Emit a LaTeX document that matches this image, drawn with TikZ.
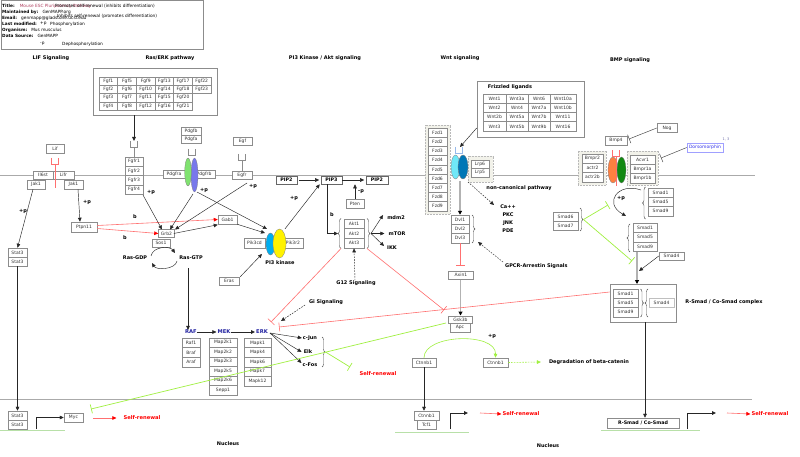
\documentclass[tikz,border=0pt]{standalone}
\usepackage{fontspec}
\setmainfont{DejaVu Sans}
\usetikzlibrary{arrows.meta,decorations.pathreplacing,calc,shapes.geometric}
\definecolor{bord}{HTML}{8C8C8C}
\definecolor{txt}{HTML}{333333}
\definecolor{redl}{HTML}{FF7070}
\definecolor{grnl}{HTML}{A0F040}
\definecolor{navy}{HTML}{2020A0}
\definecolor{memb}{HTML}{AAAAAA}
\definecolor{bgbox}{HTML}{F2F2EA}
\definecolor{dnag}{HTML}{B8E0A8}
\definecolor{cupb}{HTML}{96B9EB}
\definecolor{pblue}{HTML}{7878EB}
\definecolor{pgreen}{HTML}{80E270}
\definecolor{wcyan}{HTML}{70E8F8}
\definecolor{wblue}{HTML}{0077B6}
\definecolor{bor}{HTML}{FF8040}
\definecolor{bgr}{HTML}{118811}
\definecolor{dmb}{HTML}{A0A0FF}
\definecolor{dmt}{HTML}{3232EB}
\definecolor{dms}{HTML}{6E6EAA}
\definecolor{ttl}{HTML}{B04060}
\tikzset{
 gbox/.style={draw=bord,line width=0.5pt,fill=white,text=txt,font=\fontsize{4.5}{5}\selectfont,inner sep=0pt},
 pbox/.style={draw=black!60,line width=0.6pt,fill=white,font=\bfseries\fontsize{4.8}{5}\selectfont,inner sep=0pt,minimum height=8pt},
 lbl/.style={font=\bfseries\fontsize{5}{6}\selectfont,inner sep=0pt},
 bl/.style={font=\bfseries\fontsize{5.2}{6}\selectfont,inner sep=0pt,text=navy},
 srt/.style={font=\bfseries\fontsize{5.2}{6}\selectfont,inner sep=0pt,text=red},
 arr/.style={draw=black!85,line width=0.45pt,-{Triangle[length=4pt,width=3.6pt]}},
 darr/.style={arr,dash pattern=on 1.6pt off 1.2pt},
 garr/.style={draw=gray!60,line width=1.6pt,-{Triangle[length=4pt,width=4pt,color=black]}},
 rinh/.style={draw=redl,line width=0.6pt,-{Bar[width=9pt]}},
 ginh/.style={draw=grnl,line width=0.7pt,-{Bar[width=9pt]}},
 binh/.style={draw=black!75,line width=0.45pt,-{Bar[width=9pt]}},
 rarr/.style={draw=redl,line width=0.6pt,-{Triangle[length=4pt,width=3.6pt,color=red]}},
 garc/.style={draw=grnl,line width=0.6pt,-{Triangle[length=4pt,width=3.6pt,color=grnl]}},
 gdarr/.style={garc,dash pattern=on 1.6pt off 1.2pt},
 brc/.style={decorate,decoration={brace,amplitude=3pt},draw=black!70,line width=0.4pt},
 membl/.style={draw=memb,line width=0.7pt},
 dna/.style={draw=dnag,line width=0.8pt},
 ov/.style={ellipse,draw=black!50,line width=0.3pt,inner sep=0pt},
 bgb/.style={fill=bgbox,draw=gray!55,densely dotted,line width=0.5pt,inner sep=0pt},
 leg/.style={font=\fontsize{4.3}{5}\selectfont,anchor=west,inner sep=0pt},
}
\newcommand\gb[7][]{\node[gbox,minimum width=#5pt,minimum height=#6pt,#1] (#2) at (#3,#4) {#7};}
\newcommand\stk[6]{\foreach \t [count=\i] in {#6} \node[gbox,minimum width=#4pt,minimum height=#5pt] (#1\i) at (#2,{#3+#5*(\i-0.5)}) {\t};}
\newcommand\cupat[3]{\draw[draw=#3,line width=0.5pt] (#1-3.5,#2) -- (#1-3.5,#2+6) -- (#1+3.5,#2+6) -- (#1+3.5,#2);}
\begin{document}
\begin{tikzpicture}[x=1pt,y=-1pt]
\useasboundingbox (0,0) rectangle (800,457);
\fill[white] (0,0) rectangle (800,457);
% membranes
\coordinate (mL) at (0,175); \coordinate (mR) at (755,175); \draw[membl] (mL) -- (mR);
\coordinate (nL) at (0,399); \coordinate (nR) at (752,399); \draw[membl] (nL) -- (nR);
% legend
\node[draw=bord,line width=0.5pt,minimum width=202pt,minimum height=49pt,inner sep=0] (legend) at (102,24.5) {};
\node[leg] (lg1) at (2,6) {\textbf{Title:}\hspace{5pt}\textcolor{ttl}{Mouse ESC Pluripotency Pathway}};
\node[leg] (lg2) at (55,6) {Promotes self-renewal (inhibits differentiation)};
\node[leg] (lg3) at (2,12.5) {\textbf{Maintained by:}\hspace{4pt}GenMAPP.org};
\node[leg] (lg4) at (2,18.5) {\textbf{Email:}\hspace{4pt}genmapp@gladstone.ucsf.edu};
\node[leg] (lg5) at (57,16) {Inhibits self-renewal (promotes differentiation)};
\node[leg] (lg6) at (2,24) {\textbf{Last modified:}};
\node[leg] (lg7) at (40,24) {+p};
\node[leg] (lg8) at (50,24) {Phosphorylation};
\node[leg] (lg9) at (2,30) {\textbf{Organism:}\hspace{4pt}Mus musculus};
\node[leg] (lg10) at (2,35.5) {\textbf{Data Source:}\hspace{4pt}GenMAPP};
\node[leg] (lg11) at (40,44) {-p};
\node[leg] (lg12) at (62,44) {Dephosphorylation};
% section titles
\node[lbl] (tLIF) at (51,58) {LIF Signaling};
\node[lbl] (tRAS) at (170,58) {Ras/ERK pathway};
\node[lbl] (tPI3) at (325,58) {PI3 Kinase / Akt signaling};
\node[lbl] (tWNT) at (460,58) {Wnt signaling};
\node[lbl] (tBMP) at (630,60) {BMP signaling};
% ---------- LIF
\gb{lif}{55}{148.5}{18}{9}{Lif}
\cupat{55}{158}{redl}
\gb{il6st}{43}{175}{20}{8}{Il6st}
\gb{lifr}{63.5}{175}{21}{8}{Lifr}
\coordinate (lifc) at (55,164); \coordinate (lifs) at (55,188);
\draw[redl,line width=0.5pt] (lifc) -- (lifs);
\gb{jak1a}{36}{184.5}{18}{9}{Jak1}
\gb{jak1b}{73.5}{184.5}{19}{9}{Jak1}
\stk{stc}{17.5}{248}{19}{9}{Stat3,Stat3}
\gb{ptpn}{84}{227}{26}{10}{Ptpn11}
\draw[arr] ([xshift=-3pt]jak1a.south) -- (stc1.north);
\node[lbl] (pp1) at (23,211) {+p};
\draw[arr] ([xshift=4.5pt]jak1b.south) -- ([xshift=-4pt]ptpn.north);
\node[lbl] (pp2) at (87,202) {+p};
\stk{stn}{17.5}{411}{19}{9}{Stat3,Stat3}
\draw[arr] (stc2.south) -- (stn1.north);
\gb{myc}{73.5}{417.5}{19}{9}{Myc}
\coordinate (pr1) at (36,429);
\draw[arr] (pr1) |- (myc.west);
\coordinate (dn1a) at (0,430); \coordinate (dn1b) at (65,430); \draw[dna] (dn1a) -- (dn1b);
\node[srt] (sr1) at (142,418) {Self-renewal};
\coordinate (sr1a) at (93,418);
\draw[rarr] (sr1a) -- ([xshift=-7pt]sr1.west);
% ---------- Ras/ERK
\node[draw=bord,line width=0.6pt,minimum width=124pt,minimum height=47pt,inner sep=0] (fgftab) at (155,91.5) {};
\stk{fa}{108.3}{77}{18.67}{8.3}{Fgf1,Fgf2,Fgf3,Fgf4}
\stk{fb}{127}{77}{18.67}{8.3}{Fgf5,Fgf6,Fgf7,Fgf8}
\stk{fc}{145.7}{77}{18.67}{8.3}{Fgf9,Fgf10,Fgf11,Fgf12}
\stk{fd}{164.3}{77}{18.67}{8.3}{Fgf13,Fgf14,Fgf15,Fgf16}
\stk{fe}{183}{77}{18.67}{8.3}{Fgf17,Fgf18,Fgf20,Fgf21}
\stk{ff}{201.7}{77}{18.67}{8.3}{Fgf22,Fgf23}
\coordinate (fgcup) at (134,141);
\draw[arr] (fgftab.south -| fgcup) -- (fgcup);
\cupat{134}{141}{bord}
\stk{fgfr}{134}{157}{18}{9.3}{Fgfr1,Fgfr2,Fgfr3,Fgfr4}
\coordinate (fgcb) at (134,147); \draw[bord,line width=0.5pt] (fgcb) -- (fgfr1.north);
% Pdgf
\stk{pdg}{191}{127}{20}{8.3}{Pdgfb,Pdgfa}
\cupat{192}{149}{bord}
\gb{pdgfra}{174}{174}{22}{8}{Pdgfra}
\gb{pdgfrb}{204}{174}{22}{8}{Pdgfrb}
\node[ov,fill=pblue,minimum width=7pt,minimum height=34pt] (pov2) at (194.5,175) {};
\node[ov,fill=pgreen,minimum width=6.6pt,minimum height=28pt] (pov1) at (188,172) {};
% Egf
\gb{egf}{242.5}{141.5}{19}{8}{Egf}
\cupat{242}{154}{bord}
\gb{egfr}{242}{175}{20}{8}{Egfr}
\coordinate (egcb) at (242,160); \draw[bord,line width=0.5pt] (egcb) -- (egfr.north);
% Grb2 etc
\gb{grb2}{166.5}{233.5}{16}{8}{Grb2}
\gb{sos1}{161}{243}{18}{8}{Sos1}
\gb{gab1}{227.5}{219.5}{19}{9}{Gab1}
\draw[rarr] ([yshift=1.5pt]ptpn.east) -- (gab1.west);
\draw[rarr] ([yshift=-1.5pt]ptpn.east) -- (grb2.west);
\node[lbl] (b1) at (135,216.5) {b};
\node[lbl] (b2) at (125,237.5) {b};
\coordinate (fr1) at (143,195); \coordinate (fr1e) at (162,229.5);
\draw[arr] (fr1) -- (fr1e);
\node[lbl] (pp3) at (151,192) {+p};
\coordinate (pd1) at (193,194); \coordinate (pd1e) at (170,229.5);
\draw[arr] (pd1) -- (pd1e);
\node[lbl] (pp4) at (204,190) {+p};
\coordinate (pd2) at (197,192); \coordinate (pi3in) at (267,229);
\draw[arr] (pd2) -- (pi3in);
\coordinate (eg1) at (247,183); \coordinate (eg1e) at (175,229.5);
\draw[arr] (eg1) -- (eg1e);
\node[lbl] (pp5) at (253,186) {+p};
\draw[arr] ([xshift=-1pt]grb2.east) -- ([yshift=-0.5pt]gab1.south west);
\coordinate (gbe) at (265,233);
\draw[arr] (gab1.south east) -- (gbe);
% Ras cycle
\node[lbl] (rasgdp) at (135,258) {Ras-GDP};
\node[lbl] (rasgtp) at (191,258) {Ras-GTP};
\coordinate (rc1) at (151,256); \coordinate (rc2) at (175,253);
\coordinate (rc3) at (177,261); \coordinate (rc4) at (152,263);
\draw[arr] (rc1) .. controls (153,246) and (170,246) .. (rc2);
\draw[arr] (rc3) .. controls (175,270) and (156,270) .. (rc4);
% RAF MEK ERK
\node[bl] (lraf) at (191,332) {RAF};
\node[bl] (lmek) at (224,332) {MEK};
\node[bl] (lerk) at (262,332) {ERK};
\coordinate (rasd) at (188,268);
\draw[arr] (rasd) -- (rasd |- lraf.north);
\draw[arr] (lraf.east) -- ([xshift=-1pt]lmek.west);
\draw[arr] (lmek.east) -- ([xshift=-1pt]lerk.west);
\stk{rf}{191}{338}{18}{9.7}{Raf1,Braf,Araf}
\stk{mk}{223}{338}{28}{9.5}{Map2k1,Map2k2,Map2k3,Map2k5,Map2k6,Sepp1}
\stk{ek}{257.5}{338}{27}{9.6}{Mapk1,Mapk4,Mapk6,Mapk7,Mapk12}
\node[lbl] (cjun) at (310,338) {c-Jun};
\node[lbl] (elk) at (308,352) {Elk};
\node[lbl] (cfos) at (310,365) {c-Fos};
\coordinate (erko) at (270,333);
\draw[arr] (erko) -- ([xshift=-1pt]cjun.west);
\draw[arr] (erko) -- ([xshift=-2pt]elk.west);
\draw[arr] (erko) -- ([xshift=-1pt,yshift=2pt]cfos.west);
\coordinate (elkbt) at (322,337); \coordinate (elkbb) at (322,367);
\draw[brc] (elkbt) -- (elkbb);
\node[srt] (sr2) at (378,374) {Self-renewal};
\coordinate (elkb) at (325.5,352); \coordinate (sr2t) at (350,367);
\draw[ginh] (elkb) -- (sr2t);
% ---------- PI3K / Akt
\gb{pik3cd}{254.5}{243}{21}{10}{Pik3cd}
\gb{pik3r2}{293}{243}{20}{10}{Pik3r2}
\node[ov,fill=cyan,minimum width=9pt,minimum height=22pt] (pcy) at (270.5,244) {};
\node[ov,fill=yellow,minimum width=13pt,minimum height=29pt] (pye) at (279.5,243.5) {};
\node[lbl] (pi3k) at (280,263) {PI3 kinase};
\gb{eras}{229}{281}{20}{8}{Eras}
\coordinate (erse) at (262,254);
\draw[arr] ([xshift=1pt]eras.north east) -- (erse);
\node[pbox,minimum width=21pt] (pip2a) at (286.5,180) {PIP2};
\node[pbox,minimum width=21pt] (pip3) at (331.5,180) {PIP3};
\node[pbox,minimum width=22pt] (pip2b) at (377,180) {PIP2};
\draw[arr,shorten >=1.5pt,shorten <=1.5pt] (pip2a.east) -- (pip3.west);
\draw[arr,shorten >=1.5pt] (pip3.east) -- (pip2b.west);
\draw[arr] ([xshift=5.5pt]pye.north) -- ([xshift=-1pt]pip3.south west);
\node[lbl] (pp6) at (294,198) {+p};
\gb{pten}{355}{203.5}{18}{9}{Pten}
\draw[arr] (pten.north) -- (pten.north |- pip3.south);
\node[lbl] (mp1) at (361,192) {-p};
\stk{akt}{354}{219}{20}{9.7}{Akt1,Akt2,Akt3}
\coordinate (aklb) at (341,248.5); \coordinate (aklt) at (341,218.5);
\draw[brc] (aklb) -- (aklt);
\coordinate (akrt) at (367,218.5); \coordinate (akrb) at (367,248.5);
\draw[brc] (akrt) -- (akrb);
\coordinate (aktin) at (338,233.5);
\draw[arr] ([xshift=-4.5pt]pip3.south) |- (aktin);
\node[lbl] (b3) at (332,215) {b};
\node[lbl] (mdm2) at (396,218) {mdm2};
\node[lbl] (mtor) at (397,233.5) {mTOR};
\node[lbl] (ikk) at (392,248) {IKK};
\coordinate (akto) at (371,233.5);
\draw[arr] (akto) -- ([xshift=-4pt,yshift=3pt]mdm2.west);
\draw[arr] (akto) -- ([xshift=-4pt]mtor.west);
\draw[arr] (akto) -- ([xshift=-3pt,yshift=2pt]ikk.west);
\node[lbl] (g12) at (356,283) {G12 Signaling};
\draw[darr] ([xshift=-1pt]g12.north) -- (akt3.south);
\node[lbl] (gi) at (326,302) {Gi Signaling};
\coordinate (gis) at (305,305); \coordinate (gie) at (281,321);
\draw[darr] (gis) -- (gie);
% ---------- Wnt
\node[draw=bord,line width=0.6pt,minimum width=107pt,minimum height=56pt,inner sep=0] (frzbox) at (530.5,109) {};
\node[lbl] (frzt) at (510,87.5) {Frizzled ligands};
\stk{wa}{494.5}{94}{23}{9.25}{Wnt1,Wnt2,Wnt2b,Wnt3}
\stk{wb}{517}{94}{22}{9.25}{Wnt3a,Wnt4,Wnt5a,Wnt5b}
\stk{wc}{539}{94}{22}{9.25}{Wnt6,Wnt7a,Wnt7b,Wnt9b}
\stk{wd}{563}{94}{26}{9.25}{Wnt10a,Wnt10b,Wnt11,Wnt16}
\coordinate (wcup) at (460,147);
\draw[arr] ([yshift=-19pt]frzbox.west) -- (wcup);
\node[bgb,minimum width=25pt,minimum height=89pt] (fzdbg) at (437.5,169.5) {};
\stk{fzd}{437.5}{128}{19}{9.2}{Fzd1,Fzd2,Fzd3,Fzd4,Fzd5,Fzd6,Fzd7,Fzd8,Fzd9}
\node[bgb,minimum width=25pt,minimum height=26pt] (lrpbg) at (480.5,169) {};
\stk{lrp}{480}{160}{18}{8.5}{Lrp6,Lrp5}
\node[ov,fill=wcyan,minimum width=9pt,minimum height=24pt] (wov1) at (455.5,167) {};
\node[ov,fill=wblue,minimum width=10pt,minimum height=24pt] (wov2) at (463,167) {};
\cupat{459}{147}{cupb}
\stk{dvl}{460}{215}{18}{9.3}{Dvl1,Dvl2,Dvl3}
\coordinate (wdn) at (460,181);
\draw[garr] (wdn) -- (dvl1.north);
\coordinate (dvbt) at (472,215); \coordinate (dvbb) at (472,243);
\draw[brc] (dvbt) -- (dvbb);
\node[lbl] (ncp) at (519,188) {non-canonical pathway};
\coordinate (ncs) at (468,182); \coordinate (nce) at (494,205);
\draw[darr] (ncs) -- (nce);
\node[lbl] (ca) at (508,207) {Ca++};
\node[lbl] (pkc) at (508,215) {PKC};
\node[lbl] (jnk) at (508,223) {JNK};
\node[lbl] (pde) at (508,231) {PDE};
\node[lbl,anchor=west] (gpcr) at (505,266) {GPCR-Arrestin Signals};
\coordinate (gps) at (503,262); \coordinate (gpe) at (478,242);
\draw[darr] (gps) -- (gpe);
\gb{axin}{461}{275}{25}{8.5}{Axin1}
\coordinate (axT) at (460,266);
\draw[rinh] (dvl3.south) -- (axT);
\gb{gsk}{460.5}{319.5}{24}{7.5}{Gsk3b}
\gb{apc}{460}{327.5}{20}{8.5}{Apc}
\draw[garr] ([xshift=-0.5pt]axin.south) -- (gsk.north);
\gb{ctn1}{424}{362.5}{24}{9}{Ctnnb1}
\gb{ctn2}{495.5}{362.5}{25}{9}{Ctnnb1}
\draw[garc] (ctn1.north) .. controls (424,334) and (496,332) .. (ctn2.north);
\node[lbl] (pp7) at (492,336) {+p};
\node[lbl] (deg) at (589,362) {Degradation of beta-catenin};
\draw[gdarr] (ctn2.east) -- ([xshift=-8pt]deg.west);
\gb{nctn}{426.5}{415.5}{25}{9}{Ctnnb1}
\gb{tcf}{426.5}{424.5}{19}{9}{Tcf1}
\draw[arr] (ctn1.south) -- (ctn1.south |- nctn.north);
\coordinate (pr2) at (450,429); \coordinate (pr2e) at (468,413);
\draw[arr] (pr2) |- (pr2e);
\coordinate (dn2a) at (395,432.5); \coordinate (dn2b) at (469,432.5); \draw[dna] (dn2a) -- (dn2b);
\node[srt] (sr3) at (521,414) {Self-renewal};
\coordinate (sr3a) at (480,413);
\draw[rarr] (sr3a) -- ([xshift=-1pt]sr3.west);
% ---------- BMP
\gb{nog}{667}{128}{20}{8.5}{Nog}
\gb{bmp4}{616}{140.5}{22}{9}{Bmp4}
\coordinate (nogT) at (629,139);
\draw[binh] (nog.west) -- (nogT);
\node[draw=dmb,line width=0.5pt,fill=white,text=dmt,font=\fontsize{4.5}{5}\selectfont,inner sep=0pt,minimum width=36pt,minimum height=9pt] (dorso) at (705,147.5) {Dorsomorphin};
\node[font=\fontsize{3.5}{4}\selectfont,text=dms,inner sep=0pt] (dsup) at (726,139.5) {1, 3};
\coordinate (dorT) at (661,158);
\draw[binh] (dorso.west) -- (dorT);
\node[bgb,minimum width=28pt,minimum height=34pt] (bmbg) at (592,168) {};
\stk{bmr}{592.5}{154}{21}{9.3}{Bmpr2,actr2,actr2b}
\node[bgb,minimum width=31pt,minimum height=34pt] (acbg) at (642.5,168) {};
\stk{acv}{642.5}{155}{25}{9.3}{Acvr1,Bmpr1a,Bmpr1b}
\node[ov,fill=bor,minimum width=10pt,minimum height=26pt] (bov1) at (613,170) {};
\node[ov,fill=bgr,minimum width=9pt,minimum height=26pt] (bov2) at (621.5,170) {};
\cupat{616}{150.5}{redl}
\coordinate (bcs) at (616,156.5); \coordinate (bce) at (616,186);
\draw[redl,line width=0.5pt] (bcs) -- (bce);
\stk{sm}{660.5}{188}{25}{9.3}{Smad1,Smad5,Smad9}
\coordinate (smbb) at (645.5,219); \coordinate (smbt) at (645.5,187);
\draw[brc] (smbb) -- (smbt);
\coordinate (cps) at (641,190); \coordinate (cpe) at (626,216);
\draw[arr] (cps) .. controls (618,182) and (603,203) .. (cpe);
\node[lbl] (pp8) at (621,198) {+p};
\stk{sl}{645}{223}{24}{9.4}{Smad1,Smad5,Smad9}
\coordinate (slbb) at (630,252); \coordinate (slbt) at (630,224);
\draw[brc] (slbb) -- (slbt);
\stk{s67}{565.5}{212}{25}{9}{Smad6,Smad7}
\coordinate (s7bt) at (580,208); \coordinate (s7bb) at (580,231);
\draw[brc] (s7bt) -- (s7bb);
\coordinate (s7tip) at (583.5,219.5); \coordinate (s7T1) at (608,205); \coordinate (s7T2) at (632,261);
\draw[ginh] (s7tip) -- (s7T1);
\draw[ginh] (s7tip) -- (s7T2);
\gb{smad4}{671.5}{256}{25}{8.5}{Smad4}
\coordinate (s4e) at (639,271);
\draw[arr] (smad4.west) -- (s4e);
\node[draw=bord,line width=0.6pt,minimum width=66pt,minimum height=38pt,inner sep=0] (cplx) at (643,303) {};
\coordinate (slo) at (637,251.5); \coordinate (slo2) at (637,284);
\draw[garr] (slo) -- (slo2);
\stk{sc}{625.5}{289}{25}{9.3}{Smad1,Smad5,Smad9}
\coordinate (scb1t) at (640.5,289); \coordinate (scb1b) at (640.5,317);
\draw[brc] (scb1t) -- (scb1b);
\coordinate (scb2b) at (648,317); \coordinate (scb2t) at (648,289);
\draw[brc] (scb2b) -- (scb2t);
\gb[draw=gray!50]{sc4}{661.5}{303}{25}{9}{Smad4}
\node[lbl] (cplxt) at (724,302) {R-Smad / Co-Smad complex};
\node[gbox,font=\bfseries\fontsize{4.8}{5}\selectfont,text=black,minimum width=72pt,minimum height=10pt] (nrs) at (643,423) {R-Smad / Co-Smad};
\draw[arr] ([xshift=2pt]cplx.south) -- ([xshift=2pt]nrs.north);
\coordinate (pr3) at (687,429); \coordinate (pr3e) at (716,413);
\draw[arr] (pr3) |- (pr3e);
\coordinate (dn3a) at (601,430.5); \coordinate (dn3b) at (700,430.5); \draw[dna] (dn3a) -- (dn3b);
\node[srt] (sr4) at (770,414) {Self-renewal};
\coordinate (sr4a) at (727,413);
\draw[rarr] (sr4a) -- ([xshift=-1pt]sr4.west);
% ---------- inhibition lines (red / green)
\coordinate (erkT) at (271,322);
\draw[rinh] (aklb) -- (erkT);
\coordinate (gskT) at (444,310);
\draw[rinh] (akrb) -- (gskT);
\coordinate (smT) at (279,327);
\draw[rinh] ([yshift=11pt]cplx.west) -- (smT);
\coordinate (gsks) at (446,323); \coordinate (mycT) at (91,409);
\draw[ginh] (gsks) -- (mycT);
% nucleus labels
\node[lbl] (nuc1) at (228,444) {Nucleus};
\node[lbl] (nuc2) at (548,446) {Nucleus};
\end{tikzpicture}
\end{document}
